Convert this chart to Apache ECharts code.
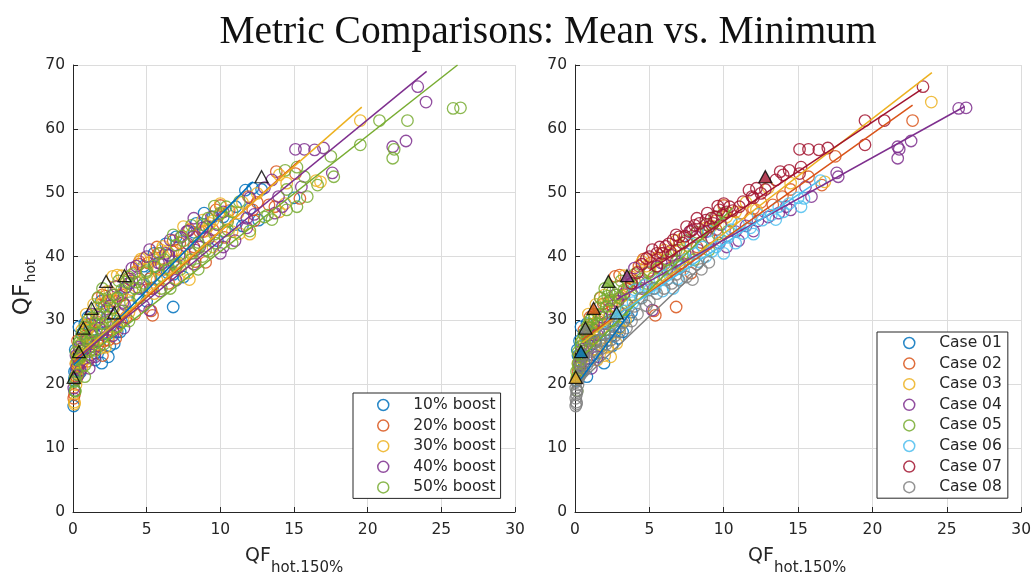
<!DOCTYPE html>
<html><head><meta charset="utf-8">
<script src="https://cdn.jsdelivr.net/npm/echarts@6/dist/echarts.min.js"></script>
<style>html,body{margin:0;padding:0;background:#fff}#c{width:1034px;height:573px}</style>
</head><body><div id="c"></div><script>
// ---- data: each point is [QF_hot,150%, QF_hot, boostIndex] ----
const boostNames = ['10% boost','20% boost','30% boost','40% boost','50% boost'];
const caseNames = ['Case 01','Case 02','Case 03','Case 04','Case 05','Case 06','Case 07','Case 08'];
const xTicks = [0,5,10,15,20,25,30];
const yTicks = [0,10,20,30,40,50,60,70];

const case01 = [[0.1,20.6,0],[0.2,21.3,1],[0.35,21.7,2],[0.5,22.2,3],[0.8,21.2,4],[0.3,22.8,0],[0.6,23.4,1],[0.9,24.0,2],[1.2,24.6,3],[1.5,25.3,4],[1.8,26.0,0],[2.1,26.8,1],[2.4,27.5,2],[2.7,28.3,3],[3.0,29.0,4],[3.3,29.8,0],[3.6,30.5,1],[3.8,31.3,2],[0.2,24.5,3],[0.4,26.0,4],[0.4,29.0,0],[0.8,29.5,0],[0.15,25.4,0],[1.0,27.0,1],[1.6,28.2,2],[2.2,29.8,3],[1.95,23.3,0],
  [0.3,26.8,1],[0.6,27.9,0],[0.9,28.4,2],[1.3,27.6,0],[2.5,26.0,0],[2.9,27.2,1],[3.2,28.2,0]];
const case02 = [[0.2,22.0,0],[0.4,23.5,1],[0.6,25.2,2],[0.9,26.8,3],[1.3,28.0,4],[1.0,30.5,0],[1.6,29.8,1],[2.0,31.0,2],[2.5,32.3,3],[3.0,33.5,4],[2.7,36.9,2],[3.0,37.1,2],[3.5,35.0,0],[4.0,36.2,3],[4.6,39.6,2],[5.5,39.5,2],[5.0,37.8,4],[5.3,31.5,1],[5.4,30.8,1],[6.8,32.1,0],[6.0,38.8,3],[6.5,40.2,0],[7.2,39.0,4],[7.8,37.4,2],[8.2,41.5,1],[9.0,43.0,3],[10.5,45.5,4],[11.2,46.8,2],[12.0,47.5,0],[13.3,48.1,1],[13.95,49.4,3],[14.5,50.5,4],[15.7,52.5,4],[16.6,51.2,4],[17.5,55.7,4],[22.7,61.3,4],[1.7,33.5,1],[0.6,28.5,2],
  [0.3,24.5,1],[0.8,27.5,1],[1.2,29.4,1],[1.9,32.6,2],[2.3,33.0,1],[3.3,34.0,1],[3.8,36.5,1],[4.3,38.5,3],[5.1,39.0,1],[5.8,40.5,1],[6.4,38.2,2],[7.0,41.0,1],[8.5,42.2,4],[9.5,44.2,1],[10.0,48.0,1],[11.8,46.0,3],[12.5,48.5,1]];
const case03 = [[0.1,21.0,0],[0.3,22.5,1],[0.5,24.0,2],[0.8,25.5,3],[1.2,27.0,4],[1.5,23.8,0],[2.0,24.5,1],[2.4,24.3,0],[2.8,26.4,0],[2.2,25.8,2],[1.8,28.8,3],[2.3,30.5,4],[2.8,32.0,2],[3.2,33.8,1],[3.6,35.2,3],[4.2,37.6,2],[3.8,36.8,4],[4.8,38.5,0],[5.2,36.5,1],[5.8,38.0,2],[6.3,40.5,3],[7.0,41.8,4],[7.6,40.0,2],[8.2,43.2,1],[8.8,44.5,3],[9.5,45.6,2],[10.2,46.2,0],[10.8,47.0,4],[11.5,48.5,2],[12.2,47.3,1],[13.0,50.8,3],[14.5,51.5,2],[16.8,51.7,2],[23.96,64.2,3],[0.9,31.0,2],[1.4,32.5,2],[2.0,34.0,1],
  [0.2,23.3,2],[0.6,26.5,2],[1.0,28.5,2],[1.6,30.2,2],[2.5,33.0,2],[3.3,37.0,2],[4.5,39.2,1],[5.5,39.8,2],[6.0,41.0,2],[6.8,42.5,1],[7.3,43.0,3],[9.2,44.8,2],[10.5,45.8,2],[1.3,25.5,2],[1.7,26.2,1],[3.0,28.8,2],[3.4,30.0,2]];
const case04 = [[0.3,23.0,0],[0.6,24.5,1],[1.0,26.0,2],[1.5,27.8,3],[2.0,29.5,4],[2.5,31.0,0],[2.9,33.0,1],[3.3,34.2,2],[3.8,35.8,3],[4.3,36.0,4],[5.2,31.6,3],[5.5,38.4,0],[6.2,38.0,1],[6.8,39.2,3],[7.4,40.5,2],[8.15,43.1,3],[8.8,43.9,1],[9.7,42.1,4],[10.2,41.5,3],[10.8,43.9,2],[11.5,44.8,0],[12.3,45.6,1],[13.0,46.2,4],[13.7,46.8,3],[14.2,47.8,3],[14.5,47.3,4],[15.5,50.9,3],[15.9,49.4,4],[17.6,53.1,3],[17.7,52.5,4],[21.7,57.2,3],[21.8,56.8,4],[21.7,55.4,4],[22.6,58.1,3],[25.8,63.2,4],[26.3,63.3,4],[1.5,24.3,3],[1.1,22.5,3],[4.0,38.2,3],[7.8,44.0,3],
  [0.5,25.5,3],[0.9,27.2,3],[1.3,28.5,0],[1.8,30.5,3],[2.3,31.8,3],[2.7,34.0,3],[3.5,32.5,3],[4.5,35.0,3],[4.9,37.5,2],[5.8,39.0,3],[6.5,40.2,3],[7.0,38.8,4],[8.3,41.0,3],[9.2,42.8,3],[9.8,45.0,3],[11.0,42.5,3],[12.0,44.0,4]];
const case05 = [[0.1,22.0,0],[0.2,23.2,1],[0.3,24.5,2],[0.4,25.8,3],[0.5,27.0,4],[0.7,28.2,0],[0.9,29.3,1],[1.1,30.2,2],[1.3,31.0,3],[1.6,32.0,4],[1.9,33.0,0],[2.2,33.8,1],[2.5,34.5,2],[2.9,35.3,3],[0.2,25.0,4],[0.4,26.5,4],[0.6,27.8,4],[0.8,29.0,4],[1.0,30.0,4],[1.2,28.0,4],[1.5,29.5,4],[1.8,31.0,4],[2.1,32.2,4],[2.4,33.2,4],[2.7,32.0,4],[3.0,33.5,4],[3.3,34.8,4],[3.6,36.0,4],[4.0,37.2,4],[3.2,31.5,4],[2.6,30.0,4],[0.3,23.8,4],[1.4,26.8,4],[2.0,28.5,4],[3.8,34.0,2],[4.5,36.5,3],[5.0,37.5,4],[5.6,38.2,1],[6.2,39.5,4],[6.8,41.0,2],[7.5,42.5,4],[8.2,43.8,0],[8.8,45.0,4],[9.4,46.2,3],[10.0,46.8,4],[0.15,19.0,4],[0.3,21.5,4],[7.0,38.5,4],[8.0,39.5,4],[9.0,41.0,4],
  [0.15,21.0,4],[0.25,22.6,3],[0.5,24.2,4],[0.7,25.9,2],[0.9,27.1,4],[1.1,28.9,1],[1.3,30.4,4],[1.6,30.9,0],[1.7,33.6,4],[2.0,35.0,4],[2.3,34.5,2],[2.8,34.0,4],[3.1,36.2,4],[3.4,32.8,3],[4.2,35.0,4],[4.8,35.8,4],[5.3,36.8,0],[6.5,38.0,4],[7.2,40.2,3],[8.5,41.8,4],[9.6,43.5,4],[10.3,44.0,4]];
const case06 = [[2.0,28.0,0],[2.5,29.5,1],[3.0,30.2,2],[3.4,31.5,3],[3.9,32.8,4],[4.4,33.5,0],[5.0,34.8,1],[5.7,36.3,2],[5.9,34.6,3],[6.6,35.0,4],[6.4,37.5,0],[7.0,38.3,1],[7.5,39.6,2],[8.0,40.5,4],[8.6,41.5,3],[9.2,40.8,4],[9.8,42.5,0],[10.3,43.0,1],[10.8,42.1,4],[11.3,43.6,2],[11.8,44.5,3],[12.6,45.7,0],[13.2,46.5,4],[13.7,47.8,1],[14.4,48.3,2],[15.0,49.2,0],[15.4,49.1,1],[16.5,51.9,2],[9.0,44.0,2],[7.8,42.0,3],
  [4.0,34.8,2],[4.7,35.5,4],[5.4,35.0,0],[6.0,37.0,4],[6.9,36.5,2],[7.3,38.0,4],[8.3,39.2,1],[8.8,40.0,4],[9.5,41.5,2],[10.0,40.5,3],[10.5,44.2,4],[11.0,45.0,0],[12.0,43.5,2],[12.3,46.6,3],[13.5,45.8,4],[14.0,47.0,2],[15.2,47.8,4]];
const case07 = [[3.8,35.8,0],[4.2,37.5,1],[4.8,39.7,2],[5.2,41.1,3],[5.5,38.5,4],[5.5,40.5,0],[5.7,41.5,1],[5.9,40.5,4],[6.1,41.6,2],[6.6,42.6,3],[6.8,43.4,4],[7.0,43.1,0],[7.25,42.1,1],[7.5,44.7,2],[7.7,43.9,3],[8.04,44.9,4],[8.37,45.2,0],[8.6,43.9,1],[8.8,45.7,2],[9.04,44.7,3],[9.16,46.0,4],[9.5,46.2,0],[9.7,47.3,1],[9.93,46.5,2],[10.2,47.0,3],[10.4,47.8,4],[11.05,47.8,0],[11.7,50.4,0],[11.9,49.4,1],[12.2,50.7,0],[12.5,49.9,2],[13.5,52.0,3],[13.8,53.3,1],[14.4,53.5,4],[15.1,53.0,1],[15.2,54.0,4],[15.1,56.8,3],[15.7,56.8,3],[16.4,56.7,3],[17.0,57.0,3],[19.5,57.5,4],[19.5,61.3,2],[20.8,61.3,4],[23.4,66.6,3],
  [4.5,38.8,1],[5.0,40.0,3],[6.3,42.0,0],[6.4,40.8,2],[7.4,43.2,4],[7.9,44.2,1],[8.2,46.0,3],[8.9,46.8,0],[9.3,45.2,2],[9.6,47.9,4],[10.0,48.3,2],[10.6,47.2,1],[11.3,48.6,4],[12.0,49.2,3],[12.8,50.5,0],[14.0,52.8,2]];
const case08 = [[0.05,16.6,0],[0.1,17.2,2],[0.05,17.8,1],[0.1,18.4,1],[0.15,18.9,4],[0.05,19.4,3],[0.2,19.9,2],[0.1,20.4,4],[0.25,20.9,1],[0.35,21.4,3],[0.5,21.9,0],[0.6,22.5,2],[0.8,23.0,4],[1.0,23.6,1],[1.2,24.2,3],[1.5,24.9,0],[1.8,25.6,2],[2.1,26.3,4],[2.4,26.9,1],[2.7,27.6,3],[3.0,28.2,0],[3.46,28.8,3],[3.8,29.9,4],[4.2,31.0,1],[4.8,32.3,3],[5.0,33.0,0],[5.5,34.2,2],[6.0,35.0,4],[6.5,35.8,1],[7.0,36.3,3],[7.5,36.8,0],[7.9,36.4,2],[8.5,38.0,4],[9.0,39.1,1],[0.3,23.5,2],[0.5,24.5,4],[0.8,25.5,3],[1.3,26.5,1],[2.0,27.8,0],[2.6,29.0,2],
  [0.1,19.0,0],[0.1,16.9,2],[0.4,22.8,1],[1.1,25.1,4],[1.7,26.8,3],[2.3,28.0,4],[3.2,29.6,1],[4.0,32.2,2],[4.5,33.5,4],[5.3,35.0,1],[6.2,36.4,2],[6.8,37.2,0],[8.2,38.8,3]];
const caseData = [case01,case02,case03,case04,case05,case06,case07,case08];

// reference (triangle) point of each case
const caseMarkers = [[0.4,25.1],[1.25,31.9],[0.05,21.1],[3.5,37.0],[2.25,36.1],[2.8,31.2],[12.8,52.5],[0.7,28.8]];
// fitted line end points
const boostFitLines = [[[0.05,23.0],[12.2,51.7]],[[0.1,23.5],[15.4,55.1]],[[0.1,24.0],[19.6,63.4]],[[0.2,24.0],[24.0,69.0]],[[0.2,23.0],[26.1,70.0]]];
const caseFitLines = [[[0.35,20.7],[3.7,31.2]],[[0.5,27.0],[22.7,63.7]],[[0.5,26.5],[24.0,68.8]],[[2.8,33.3],[26.2,63.5]],[[0.2,23.7],[10.6,47.6]],[[2.8,30.8],[16.5,52.0]],[[5.0,37.8],[23.3,66.2]],[[0.1,19.8],[9.0,39.5]]];

const colors = ['#0072BD','#D95319','#EDB120','#7E2F8E','#77AC30','#4DBEEE','#A2142F','#808080'];

const FONT = 'DejaVu Sans';
const TXT = '#262626';

function xAxis(gi){
  return {type:'value',gridIndex:gi,min:xTicks[0],max:xTicks[xTicks.length-1],interval:xTicks[1]-xTicks[0],
    axisLine:{show:true,onZero:false,lineStyle:{color:TXT,width:1}},
    axisTick:{show:true,inside:true,length:5,lineStyle:{color:TXT}},
    axisLabel:{color:TXT,fontSize:15.5,fontFamily:FONT,margin:10},
    splitLine:{show:true,lineStyle:{color:'#dcdcdc',width:1}}};
}
function yAxis(gi){
  return {type:'value',gridIndex:gi,min:yTicks[0],max:yTicks[yTicks.length-1],interval:yTicks[1]-yTicks[0],
    axisLine:{show:true,onZero:false,lineStyle:{color:TXT,width:1}},
    axisTick:{show:true,inside:true,length:5,lineStyle:{color:TXT}},
    axisLabel:{color:TXT,fontSize:15.5,fontFamily:FONT,margin:8},
    splitLine:{show:true,lineStyle:{color:'#dcdcdc',width:1}}};
}

const series = [];
// left panel: grouped by boost
boostNames.forEach((nm,b)=>{
  const pts=[];
  caseData.forEach(cd=>cd.forEach(p=>{ if(p[2]===b) pts.push([p[0],p[1]]); }));
  series.push({type:'scatter',name:nm,xAxisIndex:0,yAxisIndex:0,data:pts,symbol:'circle',symbolSize:11.5,
    itemStyle:{color:'rgba(0,0,0,0)',borderColor:colors[b],borderWidth:1.3,opacity:0.85},z:2});
});
boostFitLines.forEach((ln,b)=>{
  series.push({type:'line',name:'fitL'+b,xAxisIndex:0,yAxisIndex:0,data:ln,showSymbol:false,symbol:'none',
    lineStyle:{color:colors[b],width:1.5},z:3,silent:true});
});
series.push({type:'scatter',name:'refL',xAxisIndex:0,yAxisIndex:0,data:caseMarkers,symbol:'triangle',symbolSize:[13,12],
  itemStyle:{color:'rgba(0,0,0,0)',borderColor:'#000',borderWidth:1.3},z:4});

// right panel: grouped by case
caseNames.forEach((nm,c)=>{
  series.push({type:'scatter',name:nm,xAxisIndex:1,yAxisIndex:1,data:caseData[c].map(p=>[p[0],p[1]]),symbol:'circle',symbolSize:11.5,
    itemStyle:{color:'rgba(0,0,0,0)',borderColor:colors[c],borderWidth:1.3,opacity:0.85},z:2});
});
caseFitLines.forEach((ln,c)=>{
  series.push({type:'line',name:'fitR'+c,xAxisIndex:1,yAxisIndex:1,data:ln,showSymbol:false,symbol:'none',
    lineStyle:{color:colors[c],width:1.5},z:3,silent:true});
});
series.push({type:'scatter',name:'refR',xAxisIndex:1,yAxisIndex:1,
  data:caseMarkers.map((p,c)=>({value:p,itemStyle:{color:colors[c]}})),symbol:'triangle',symbolSize:[13,12],
  itemStyle:{borderColor:'#000',borderWidth:1.3},z:4});

function legend(names,left,top,pad){
  return {show:true,orient:'vertical',left:left,top:top,padding:pad,itemGap:2.6,itemWidth:50,itemHeight:11,
    backgroundColor:'#fff',borderColor:TXT,borderWidth:1,borderRadius:0,selectedMode:false,
    textStyle:{fontFamily:FONT,fontSize:15.5,color:TXT,lineHeight:18},
    data:names.map((n,i)=>({name:n,icon:'circle',itemStyle:{color:'rgba(0,0,0,0)',borderColor:colors[i],borderWidth:1.5}}))};
}

function txt(s,x,y,size,rot,align){
  return {type:'text',x:x,y:y,rotation:rot||0,silent:true,
    style:{text:s,font:size+'px "'+FONT+'"',fill:TXT,textAlign:align||'left',textVerticalAlign:'middle'}};
}

const chart = echarts.init(document.getElementById('c'),null,{renderer:'canvas'});
chart.setOption({
  animation:false,
  backgroundColor:'#fff',
  grid:[{left:73,top:65,width:442,height:447},{left:575,top:65,width:448,height:447}],
  xAxis:[xAxis(0),xAxis(1)],
  yAxis:[yAxis(0),yAxis(1)],
  legend:[legend(boostNames,353,393,[3,5,2,24]),legend(caseNames,877,332,[2,6,2,26])],
  graphic:[
    {type:'text',x:548,y:33,silent:true,style:{text:'Metric Comparisons: Mean vs. Minimum',font:'39.5px "Liberation Serif"',fill:'#111',textAlign:'center',textVerticalAlign:'middle'}},
    txt('QF',245,556.5,19),txt('hot.150%',271,568,15),
    txt('QF',748,556.5,19),txt('hot.150%',774,568,15),
    txt('QF',23,299.5,23,Math.PI/2,'center'),txt('hot',31.5,271,14,Math.PI/2,'center')
  ],
  series:series
});
</script></body></html>
